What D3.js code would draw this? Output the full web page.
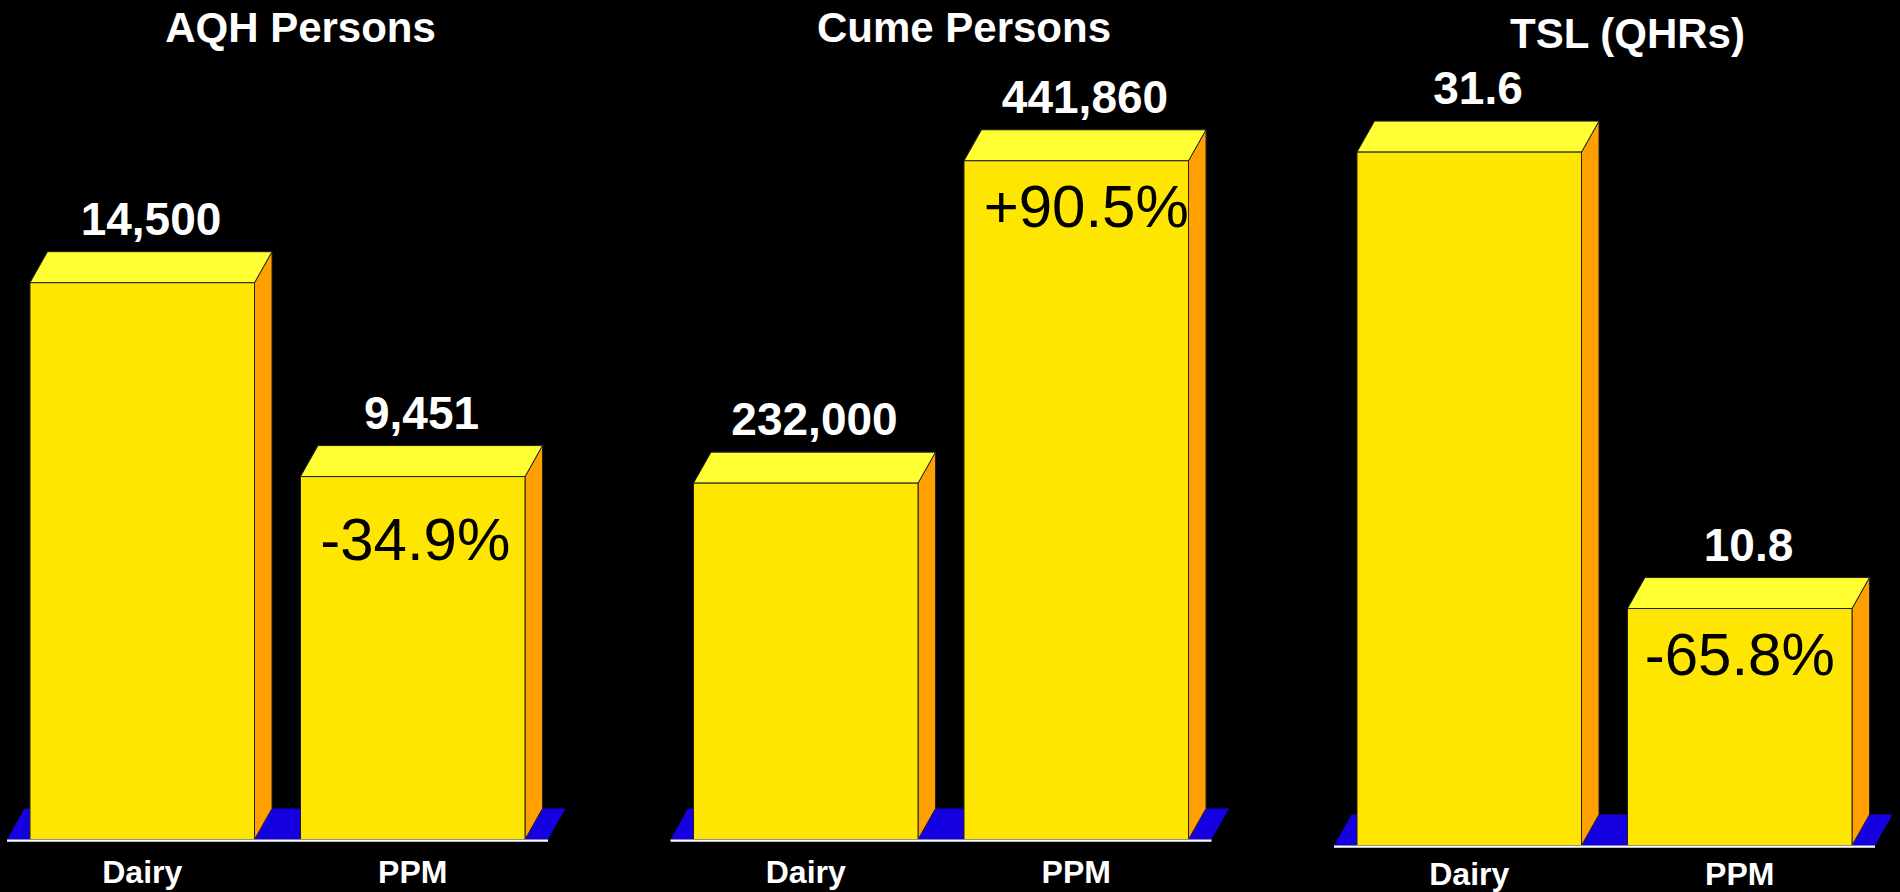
<!DOCTYPE html>
<html>
<head>
<meta charset="utf-8">
<script src="https://cdn.jsdelivr.net/npm/d3@7"></script>
<style>
  html, body { margin: 0; padding: 0; background: #000; }
  svg { display: block; }
</style>
</head>
<body>
<div id="chart"></div>
<script>
// ---- data ----
const panelTitles = ["AQH Persons", "Cume Persons", "TSL (QHRs)"];
const categories = ["Dairy", "PPM"];
const aqhValues = [14500, 9451];
const cumeValues = [232000, 441860];
const tslValues = [31.6, 10.8];
const changeLabels = ["-34.9%", "+90.5%", "-65.8%"];
const axisMax = [20000, 500000, 35];
const valueFormats = [",", ",", ".1f"];

// ---- layout ----
const W = 1900, H = 892;
const layout = [
  { x0: 7,      base: 839.5, pctDx: 2.5, pctDy: 83,   catDy: 43.5 },
  { x0: 670.5,  base: 839.5, pctDx: 10,  pctDy: 66,   catDy: 43.5 },
  { x0: 1334,   base: 845.5, pctDx: 0,   pctDy: 66.5, catDy: 39.5 }
];
const plotW = 541, plotH = 768, DX = 17.5, DY = 31;
const FONT = "'Liberation Sans', Arial, Helvetica, sans-serif";
const C = { front: "#FFE600", top: "#FFFF33", side: "#FFA000", floor: "#1400E0", edge: "#222" };

const series = [aqhValues, cumeValues, tslValues];

const svg = d3.select("#chart").append("svg")
  .attr("width", W).attr("height", H)
  .style("background", "#000");

series.forEach((vals, i) => {
  const L = layout[i];
  const data = categories.map((c, j) => ({ cat: c, value: vals[j] }));
  const x = d3.scaleBand().domain(categories)
    .range([L.x0, L.x0 + plotW])
    .paddingInner(0.17).paddingOuter(0.085);
  const y = d3.scaleLinear().domain([0, axisMax[i]]).range([L.base, L.base - plotH]);
  const fmt = d3.format(valueFormats[i]);
  const g = svg.append("g");

  // floor
  const fl = L.x0, fr = L.x0 + plotW, b = L.base;
  g.append("path")
    .attr("d", `M${fl},${b}L${fr},${b}L${fr + DX},${b - DY}L${fl + DX},${b - DY}Z`)
    .attr("fill", C.floor);

  const bars = g.selectAll("g.bar").data(data).join("g").attr("class", "bar");
  // side
  bars.append("path")
    .attr("d", d => {
      const x1 = x(d.cat) + x.bandwidth(), t = y(d.value);
      return `M${x1},${t}L${x1 + DX},${t - DY}L${x1 + DX},${b - DY}L${x1},${b}Z`;
    })
    .attr("fill", C.side).attr("stroke", C.edge).attr("stroke-width", 1);
  // top
  bars.append("path")
    .attr("d", d => {
      const x0 = x(d.cat), x1 = x0 + x.bandwidth(), t = y(d.value);
      return `M${x0},${t}L${x0 + DX},${t - DY}L${x1 + DX},${t - DY}L${x1},${t}Z`;
    })
    .attr("fill", C.top).attr("stroke", C.edge).attr("stroke-width", 1);
  // front
  bars.append("rect")
    .attr("x", d => x(d.cat))
    .attr("y", d => y(d.value))
    .attr("width", x.bandwidth())
    .attr("height", d => b - y(d.value))
    .attr("fill", C.front).attr("stroke", C.edge).attr("stroke-width", 1);

  // baseline
  g.append("line")
    .attr("x1", fl).attr("x2", fr)
    .attr("y1", b + 1.2).attr("y2", b + 1.2)
    .attr("stroke", "#fff").attr("stroke-width", 2.2);

  // value labels
  bars.append("text")
    .attr("x", d => x(d.cat) + x.bandwidth() / 2 + DX / 2)
    .attr("y", d => y(d.value) - DY - 17)
    .attr("text-anchor", "middle")
    .attr("font-family", FONT).attr("font-weight", "bold").attr("font-size", 46)
    .attr("fill", "#fff")
    .text(d => fmt(d.value));

  // category labels
  g.selectAll("text.cat").data(categories).join("text")
    .attr("class", "cat")
    .attr("x", d => x(d) + x.bandwidth() / 2)
    .attr("y", b + L.catDy)
    .attr("text-anchor", "middle")
    .attr("font-family", FONT).attr("font-weight", "bold").attr("font-size", 32)
    .attr("fill", "#fff")
    .text(d => d);

  // title
  g.append("text")
    .attr("x", L.x0 + plotW / 2 + 23)
    .attr("y", L.base - plotH - 29.5)
    .attr("text-anchor", "middle")
    .attr("font-family", FONT).attr("font-weight", "bold").attr("font-size", 42)
    .attr("fill", "#fff")
    .text(panelTitles[i]);

  // change label on second bar
  const d2 = data[1];
  g.append("text")
    .attr("x", x(d2.cat) + x.bandwidth() / 2 + L.pctDx)
    .attr("y", y(d2.value) + L.pctDy)
    .attr("text-anchor", "middle")
    .attr("font-family", FONT).attr("font-size", 60)
    .attr("fill", "#000")
    .text(changeLabels[i]);
});
</script>
</body>
</html>
